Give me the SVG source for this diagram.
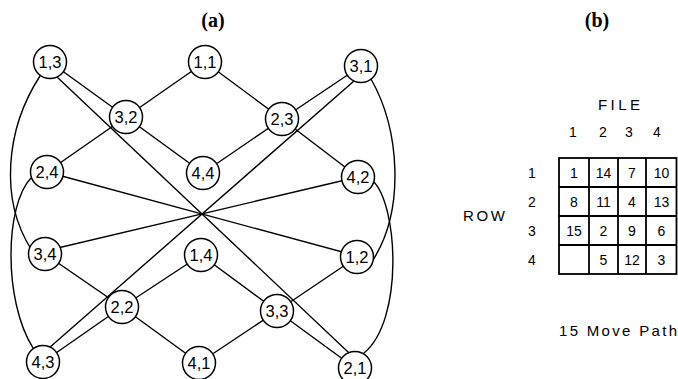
<svg xmlns="http://www.w3.org/2000/svg" width="678" height="379" viewBox="0 0 678 379">
<style>
.e{stroke:#000;stroke-width:1.4;fill:none;stroke-linecap:round}
.n circle{fill:#fff;stroke:#000;stroke-width:1.5}
.n text{font-family:"Liberation Sans",Arial,sans-serif;font-size:16.5px;text-anchor:middle;fill:#000}
.t{font-family:"Liberation Sans",Arial,sans-serif;fill:#000}
.c{font-family:"Liberation Sans",Arial,sans-serif;font-size:14px;text-anchor:middle;fill:#000}
.h{font-family:"Liberation Serif","Times New Roman",serif;font-size:20px;font-weight:bold;text-anchor:middle;fill:#000}
.g{stroke:#000;stroke-width:1.8;fill:none}
</style>
<rect width="678" height="379" fill="#fff"/>
<text class="h" x="213" y="27">(a)</text>
<text class="h" x="597" y="27">(b)</text>
<g id="connectors">
<line class="e" x1="50" y1="62" x2="126" y2="117"/>
<line class="e" x1="205" y1="62" x2="126" y2="117"/>
<line class="e" x1="205" y1="62" x2="282" y2="119"/>
<line class="e" x1="361" y1="66" x2="282" y2="119"/>
<line class="e" x1="126" y1="117" x2="47" y2="172"/>
<line class="e" x1="126" y1="117" x2="203" y2="173"/>
<line class="e" x1="282" y1="119" x2="203" y2="173"/>
<line class="e" x1="282" y1="119" x2="358" y2="177"/>
<line class="e" x1="45" y1="254" x2="122" y2="307"/>
<line class="e" x1="201" y1="255" x2="122" y2="307"/>
<line class="e" x1="201" y1="255" x2="277" y2="311"/>
<line class="e" x1="357" y1="257" x2="277" y2="311"/>
<line class="e" x1="122" y1="307" x2="199" y2="363"/>
<line class="e" x1="122" y1="307" x2="43" y2="362"/>
<line class="e" x1="277" y1="311" x2="199" y2="363"/>
<line class="e" x1="277" y1="311" x2="355" y2="368"/>
<line class="e" x1="49.6" y1="70" x2="356.5" y2="360"/>
<line class="e" x1="362" y1="74" x2="41" y2="355"/>
<line class="e" x1="47" y1="172" x2="357" y2="256"/>
<line class="e" x1="358" y1="177" x2="45" y2="251"/>
<path class="e" d="M40,76 C5,130 0,200 31,249"/>
<path class="e" d="M31,178 C5,205 3,300 33,348"/>
<path class="e" d="M371,79 C400,130 405,210 373,260"/>
<path class="e" d="M373,181 C398,205 404,320 364,353"/>
</g>
<g id="n13" class="n"><circle cx="50" cy="62" r="16.5"/><text x="50" y="68">1,3</text></g>
<g id="n11" class="n"><circle cx="205" cy="62" r="16.5"/><text x="205" y="68">1,1</text></g>
<g id="n31" class="n"><circle cx="361" cy="66" r="16.5"/><text x="361" y="72">3,1</text></g>
<g id="n32" class="n"><circle cx="126" cy="117" r="16.5"/><text x="126" y="123">3,2</text></g>
<g id="n23" class="n"><circle cx="282" cy="119" r="16.5"/><text x="282" y="125">2,3</text></g>
<g id="n24" class="n"><circle cx="47" cy="172" r="16.5"/><text x="47" y="178">2,4</text></g>
<g id="n44" class="n"><circle cx="203" cy="173" r="16.5"/><text x="203" y="179">4,4</text></g>
<g id="n42" class="n"><circle cx="358" cy="177" r="16.5"/><text x="358" y="183">4,2</text></g>
<g id="n34" class="n"><circle cx="45" cy="254" r="16.5"/><text x="45" y="260">3,4</text></g>
<g id="n14" class="n"><circle cx="201" cy="255" r="16.5"/><text x="201" y="261">1,4</text></g>
<g id="n12" class="n"><circle cx="357" cy="257" r="16.5"/><text x="357" y="263">1,2</text></g>
<g id="n22" class="n"><circle cx="122" cy="307" r="16.5"/><text x="122" y="313">2,2</text></g>
<g id="n33" class="n"><circle cx="277" cy="311" r="16.5"/><text x="277" y="317">3,3</text></g>
<g id="n43" class="n"><circle cx="43" cy="362" r="16.5"/><text x="43" y="368">4,3</text></g>
<g id="n41" class="n"><circle cx="199" cy="363" r="16.5"/><text x="199" y="369">4,1</text></g>
<g id="n21" class="n"><circle cx="355" cy="368" r="16.5"/><text x="355" y="374">2,1</text></g>
<g id="board">
<text class="t" x="598" y="110" font-size="15" textLength="42" lengthAdjust="spacing">FILE</text>
<text class="c" x="573" y="137" font-size="15">1</text>
<text class="c" x="603" y="137" font-size="15">2</text>
<text class="c" x="629" y="137" font-size="15">3</text>
<text class="c" x="657" y="137" font-size="15">4</text>
<text class="t" x="463" y="221" font-size="15" textLength="42" lengthAdjust="spacing">ROW</text>
<text class="c" x="532" y="178" font-size="15">1</text>
<text class="c" x="532" y="207" font-size="15">2</text>
<text class="c" x="532" y="236" font-size="15">3</text>
<text class="c" x="532" y="265" font-size="15">4</text>
<rect class="g" x="559" y="158" width="117.5" height="116"/>
<line class="g" x1="589" y1="158" x2="589" y2="274"/>
<line class="g" x1="618" y1="158" x2="618" y2="274"/>
<line class="g" x1="646" y1="158" x2="646" y2="274"/>
<line class="g" x1="559" y1="187" x2="676.5" y2="187"/>
<line class="g" x1="559" y1="216" x2="676.5" y2="216"/>
<line class="g" x1="559" y1="245" x2="676.5" y2="245"/>
<text class="c" x="574" y="178">1</text>
<text class="c" x="603.5" y="178">14</text>
<text class="c" x="632" y="178">7</text>
<text class="c" x="661.5" y="178">10</text>
<text class="c" x="574" y="207">8</text>
<text class="c" x="603.5" y="207">11</text>
<text class="c" x="632" y="207">4</text>
<text class="c" x="661.5" y="207">13</text>
<text class="c" x="574" y="236">15</text>
<text class="c" x="603.5" y="236">2</text>
<text class="c" x="632" y="236">9</text>
<text class="c" x="661.5" y="236">6</text>
<text class="c" x="603.5" y="265">5</text>
<text class="c" x="632" y="265">12</text>
<text class="c" x="661.5" y="265">3</text>
<text class="t" x="559" y="336" font-size="15" textLength="118" lengthAdjust="spacing">15 Move Path</text>
</g>
</svg>
